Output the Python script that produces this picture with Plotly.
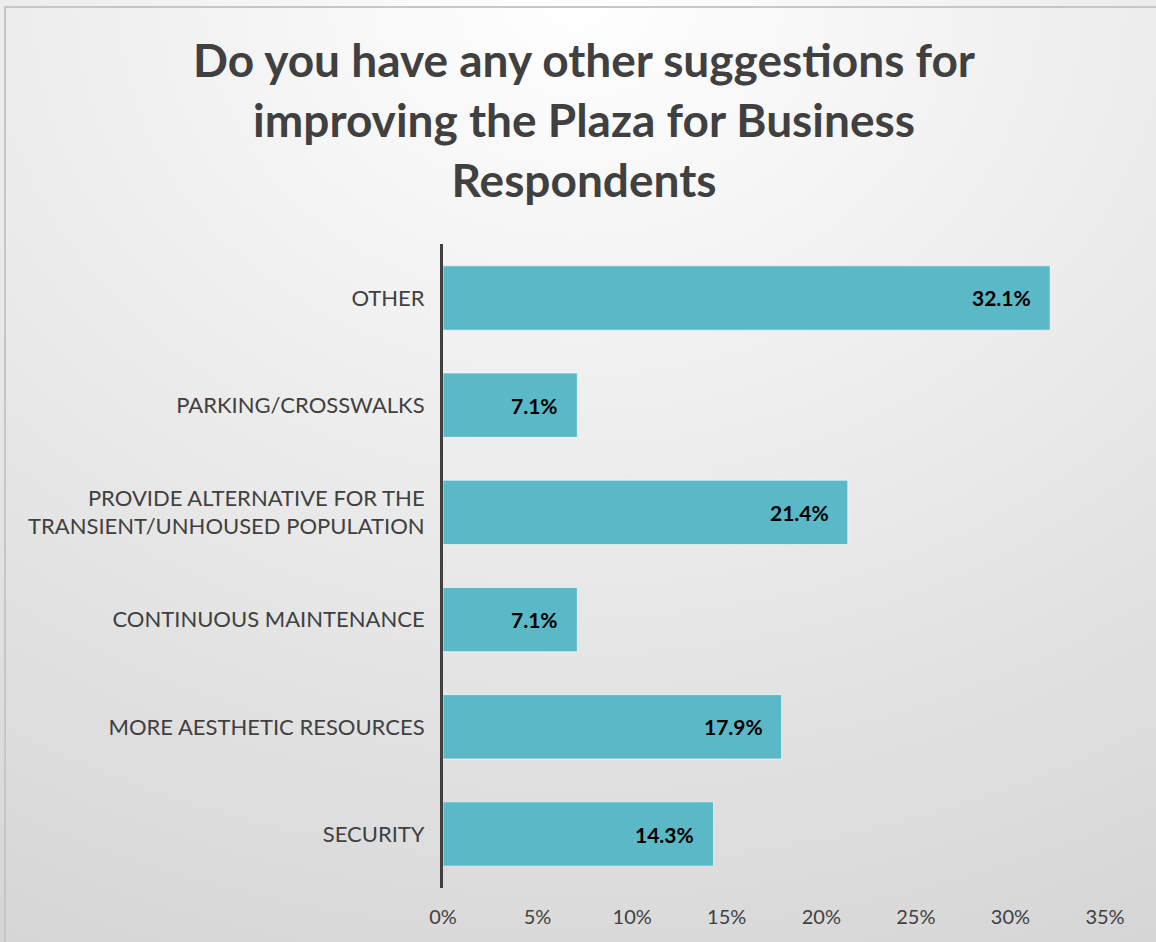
import base64
import plotly.graph_objects as go

# ─── Data (top to bottom) ────────────────────────────────────────────
categories = [
    "OTHER",
    "PARKING/CROSSWALKS",
    "PROVIDE ALTERNATIVE FOR THE<br>TRANSIENT/UNHOUSED POPULATION",
    "CONTINUOUS MAINTENANCE",
    "MORE AESTHETIC RESOURCES",
    "SECURITY",
]
shares = [0.321, 0.071, 0.214, 0.071, 0.179, 0.143]
x_ticks = [0, 0.05, 0.10, 0.15, 0.20, 0.25, 0.30, 0.35]

TITLE = "Do you have any other suggestions for<br>improving the Plaza for Business<br>Respondents"
BAR = "#5BB8C6"
TEXT = "#404040"
FONT = "Lato, 'Open Sans', sans-serif"
W, H = 1156, 942

# soft background gradient (white at top centre, grey towards the bottom)
svg = (
    '<svg xmlns="http://www.w3.org/2000/svg" width="1156" height="942">'
    '<defs><radialGradient id="g" cx="50%" cy="0%" r="110%">'
    '<stop offset="0" stop-color="#FFFFFF"/><stop offset="1" stop-color="#D6D6D6"/>'
    '</radialGradient></defs><rect width="1156" height="942" fill="url(#g)"/></svg>'
)
bg_src = "data:image/svg+xml;base64," + base64.b64encode(svg.encode()).decode()

fig = go.Figure(go.Bar(
    x=shares, y=categories, orientation="h",
    marker=dict(color=BAR, line=dict(color="rgba(255,255,255,0.6)", width=1)),
    hoverinfo="x+y",
))

# value labels inside the bar end
for c, v in zip(categories, shares):
    fig.add_annotation(
        x=v, y=c, xref="x", yref="y", text=f"<b>{v*100:.1f}%</b>",
        showarrow=False, xanchor="right", xshift=-17,
        font=dict(family=FONT, size=21, color="#000000"),
    )

fig.add_annotation(
    x=583.5 / W, y=1 - 30 / H, xref="paper", yref="paper",
    text=f"<b>{TITLE}</b>", showarrow=False, xanchor="center", yanchor="top",
    align="center", font=dict(family=FONT, size=46, color=TEXT),
)

fig.update_layout(
    width=W, height=H,
    margin=dict(l=0, r=0, t=0, b=0),
    paper_bgcolor="rgba(0,0,0,0)", plot_bgcolor="rgba(0,0,0,0)",
    font=dict(family=FONT, size=20, color=TEXT),
    bargap=0.40, showlegend=False,
    images=[dict(source=bg_src, xref="paper", yref="paper", x=0, y=1,
                 sizex=1, sizey=1, sizing="stretch", xanchor="left",
                 yanchor="top", layer="below")],
    shapes=[dict(type="rect", xref="paper", yref="paper",
                 x0=5 / W, y0=-0.02, x1=1.02, y1=1 - 7 / H,
                 line=dict(color="#C6C6C6", width=2))],
)
fig.update_xaxes(
    domain=[443 / W, 1105 / W], range=[0, 0.35],
    tickvals=x_ticks, tickformat=".0%",
    showgrid=False, zeroline=False, showline=False,
    ticklabelstandoff=15, automargin=False,
    tickfont=dict(family=FONT, size=20, color=TEXT),
)
fig.update_yaxes(
    domain=[1 - 887.6 / H, 1 - 244.4 / H], autorange="reversed",
    showgrid=False, zeroline=False, showline=True,
    linecolor=TEXT, linewidth=3, ticks="",
    ticklabelstandoff=11, automargin=False,
    tickfont=dict(family=FONT, size=22, color=TEXT),
)

fig.write_html("out.html", config={"displayModeBar": False},
               post_script="document.body.style.margin='0';")
